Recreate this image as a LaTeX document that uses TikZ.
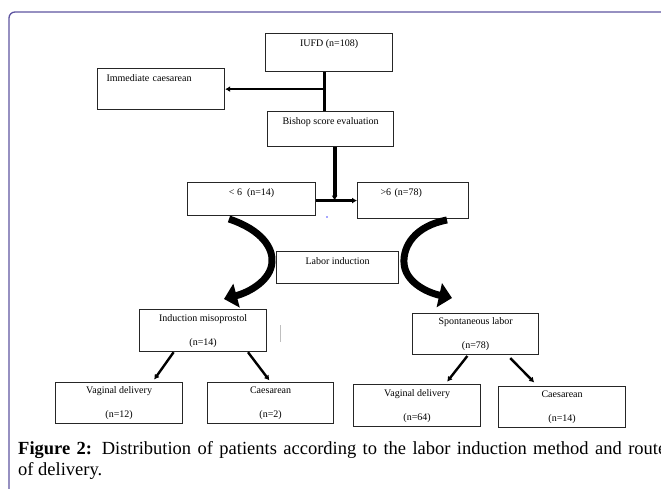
\documentclass[tikz,border=0pt]{standalone}
\usepackage{fontspec}
\setmainfont{Liberation Serif}
\usetikzlibrary{arrows.meta,calc}

\definecolor{framecol}{RGB}{94,84,160}

\tikzset{
  box/.style={draw=black!85, line width=1.2pt, inner sep=0pt, anchor=north west,
    font=\fontsize{10}{12}\selectfont, align=center},
  toptext/.style={text height=13pt, text depth=#1},
  conn/.style={line width=2.4pt, -{Latex[length=5pt,width=6pt]}},
  bigarr/.style={line width=7pt, -{Triangle[length=13pt,width=24pt]}},
}

\begin{document}
\begin{tikzpicture}[x=1pt,y=-1pt]
    \useasboundingbox (0,0) rectangle (661,489);

    % frame
    \draw[framecol, line width=1.3pt, rounded corners=6pt] (9,495) -- (9,12) -- (670,12);

    % first row
    \node[box, minimum width=127pt, minimum height=38pt, toptext=25pt] (iufd) at (265,33) {IUFD (n=108)};
    \node[box, minimum width=127pt, minimum height=41pt, toptext=28pt, align=left,
          inner xsep=9pt, text width=109pt] (imm) at (97,68) {Immediate caesarean};
    \node[box, minimum width=126pt, minimum height=35pt, toptext=22pt] (bishop) at (267,111) {Bishop score evaluation};

    % second row
    \node[box, minimum width=128pt, minimum height=33pt, toptext=20pt] (lt) at (187,182) {< 6\ \ (n=14)};
    \node[box, minimum width=111pt, minimum height=36pt, toptext=23pt, align=left,
          inner xsep=23pt, text width=65pt] (gt) at (357,182) {>6 (n=78)};
    \node[box, minimum width=122pt, minimum height=32pt, toptext=19pt] (labor) at (276,251) {Labor induction};

    % third row
    \node[box, minimum width=127pt, minimum height=42pt] (miso) at (139,309) {Induction misoprostol\\[12pt](n=14)};
    \node[box, minimum width=126pt, minimum height=41pt] (spont) at (412,313) {Spontaneous labor\\[12pt](n=78)};

    % last row
    \node[box, minimum width=127pt, minimum height=41pt] (vd1) at (55,382) {Vaginal delivery\\[12pt](n=12)};
    \node[box, minimum width=126pt, minimum height=41pt] (cs1) at (207,382) {Caesarean\\[12pt](n=2)};
    \node[box, minimum width=127pt, minimum height=42pt] (vd2) at (353,384) {Vaginal delivery\\[12pt](n=64)};
    \node[box, minimum width=127pt, minimum height=41pt] (cs2) at (498,386) {Caesarean\\[12pt](n=14)};

    % connections
    \draw[line width=2.4pt] ([xshift=-4.5pt]iufd.south) coordinate (stem) -- (stem |- bishop.north);
    \draw[conn] (stem |- imm.east) -- (imm.east);
    \draw[conn, line width=4pt] ([xshift=4pt]bishop.south) coordinate (stemb) -- ([yshift=-1.5pt]stemb |- lt.east);
    \draw[conn, line width=3pt] ([yshift=-1.5pt]lt.east) -- ([yshift=-1.5pt]lt.east -| gt.west);

    % curved arrows
    \draw[bigarr] (229,219) .. controls (262,230) and (273,248) .. (272,262)
                  .. controls (271,280) and (250,292) .. (224,299);
    \draw[bigarr] (447,220) .. controls (415,226) and (403,246) .. (404,263)
                  .. controls (405,281) and (425,292) .. (452,298);

    % routes of delivery
    \draw[conn, shorten >=3pt] ($(miso.south west)!0.27!(miso.south east)$) -- ($(vd1.north west)!0.76!(vd1.north east)$);
    \draw[conn, shorten >=2pt] ($(miso.south west)!0.85!(miso.south east)$) -- (cs1.north);
    \draw[conn, shorten <=1pt, shorten >=3pt] ($(spont.south west)!0.44!(spont.south east)$) -- ($(vd2.north west)!0.72!(vd2.north east)$);
    \draw[conn, shorten <=4pt, shorten >=5pt] ($(spont.south west)!0.75!(spont.south east)$) -- ($(cs2.north west)!0.31!(cs2.north east)$);

    % stray marks
    \draw[black!25, line width=0.8pt] (280,325) -- (280,342);
    \fill[blue!70] (327,217) circle (0.8pt);

    % caption
    \node[anchor=base west, inner sep=0pt, font=\fontsize{18.5}{22}\selectfont] (cap1) at (18,454)
        {\makebox[648pt][s]{\textbf{Figure 2:} Distribution of patients according to the labor induction method and route}};
    \node[anchor=base west, inner sep=0pt, font=\fontsize{18.5}{22}\selectfont] (cap2) at (18,475) {of delivery.};
\end{tikzpicture}
\end{document}
